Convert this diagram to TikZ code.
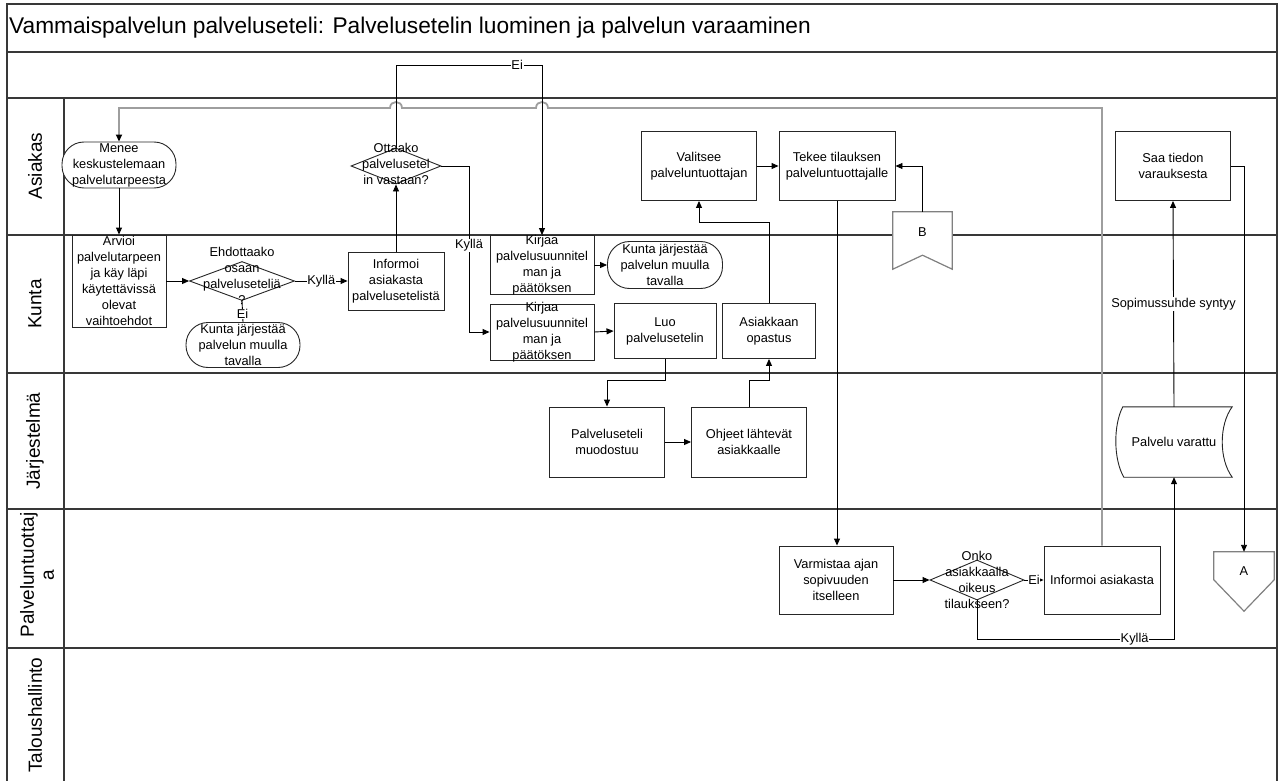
\documentclass[tikz,border=0pt]{standalone}
\usepackage{fontspec}
\setmainfont{Liberation Sans}
\usetikzlibrary{arrows.meta,shapes.geometric,calc}

\begin{document}
\begin{tikzpicture}[x=1pt,y=-1pt,
  lanes/.style={draw=black!78,line width=1.5pt},
  lanelbl/.style={font=\fontsize{19}{20}\selectfont,align=center,inner sep=0pt,rotate=90},
  txt/.style={font=\fontsize{12.8}{16}\selectfont,align=center,inner sep=0pt},
  lbl/.style={font=\fontsize{12.8}{16}\selectfont,fill=white,inner sep=0.8pt},
  proc/.style={draw=black!85,line width=0.9pt,fill=white,inner sep=0pt},
  term/.style={proc,rounded corners=22pt},
  dia/.style={proc,diamond},
  ghost/.style={inner sep=0pt},
  offp/.style={draw=black!50,line width=1.2pt,fill=white},
  arr/.style={draw=black,line width=0.9pt,-{Triangle[length=7pt,width=6pt]}},
  plain/.style={draw=black,line width=0.9pt},
  gline/.style={draw=black!38,line width=1.8pt,-{Triangle[length=7pt,width=6pt,color=black]}}
]
\useasboundingbox (0,0) rectangle (1285,781);

% frame, title row and swimlanes
\draw[lanes] (7,790) -- (7,4) -- (1277,4) -- (1277,790);
\draw[lanes] (7,52) -- (1277,52);
\draw[lanes] (7,98) -- (1277,98);
\foreach \yy in {235,373,509,648} \draw[lanes] (7,\yy) -- (1277,\yy);
\draw[lanes] (64,98) -- (64,790);

\node[anchor=west,font=\fontsize{22.7}{27}\selectfont,inner sep=0pt] (title) at (9,28)
  {Vammaispalvelun palveluseteli: Palvelusetelin luominen ja palvelun varaaminen};

\node[lanelbl] (l-asi) at (35,166) {Asiakas};
\node[lanelbl] (l-kun) at (35,304) {Kunta};
\node[lanelbl] (l-jar) at (35,441) {Järjestelmä};
\node[lanelbl] (l-pal) at (37,575) {Palveluntuottaj\\a};
\node[lanelbl] (l-tal) at (35,715) {Taloushallinto};

% process steps
\node[term,minimum width=114,minimum height=46,label={[txt]center:{Menee\\keskustelemaan\\palvelutarpeesta}}] (menee) at (119,165) {};
\node[proc,minimum width=94,minimum height=92,label={[txt]center:{Arvioi\\palvelutarpeen\\ja käy läpi\\käytettävissä\\olevat\\vaihtoehdot}}] (arvioi) at (119,281) {};
\node[dia,minimum width=105,minimum height=39,label={[txt,yshift=5pt]center:{Ehdottaako\\osaan\\palveluseteliä\\?}}] (ehd) at (242,281) {};
\node[term,minimum width=114,minimum height=45,label={[txt]center:{Kunta järjestää\\palvelun muulla\\tavalla}}] (kj1) at (243,345) {};
\node[proc,minimum width=96,minimum height=58,label={[txt]center:{Informoi\\asiakasta\\palvelusetelistä}}] (inf1) at (396,281) {};
\node[dia,minimum width=90,minimum height=36,label={[txt,yshift=2pt]center:{Ottaako\\palvelusetel\\in vastaan?}}] (ott) at (396,166) {};
\node[proc,minimum width=104,minimum height=59,label={[txt]center:{Kirjaa\\palvelusuunnitel\\man ja\\päätöksen}}] (kir1) at (542,265) {};
\node[term,minimum width=115,minimum height=47,label={[txt]center:{Kunta järjestää\\palvelun muulla\\tavalla}}] (kj2) at (665,265) {};
\node[proc,minimum width=104,minimum height=56,label={[txt]center:{Kirjaa\\palvelusuunnitel\\man ja\\päätöksen}}] (kir2) at (542,332) {};
\node[proc,minimum width=102,minimum height=55,label={[txt]center:{Luo\\palvelusetelin}}] (luo) at (665,331) {};
\node[proc,minimum width=93,minimum height=55,label={[txt]center:{Asiakkaan\\opastus}}] (opa) at (769,331) {};
\node[proc,minimum width=115,minimum height=69,label={[txt]center:{Valitsee\\palveluntuottajan}}] (val) at (699,166) {};
\node[proc,minimum width=116,minimum height=69,label={[txt]center:{Tekee tilauksen\\palveluntuottajalle}}] (tek) at (837,166) {};
\node[proc,minimum width=115,minimum height=69,label={[txt]center:{Saa tiedon\\varauksesta}}] (saa) at (1173,166) {};
\node[proc,minimum width=115,minimum height=70,label={[txt]center:{Palveluseteli\\muodostuu}}] (pal) at (607,442) {};
\node[proc,minimum width=115,minimum height=70,label={[txt]center:{Ohjeet lähtevät\\asiakkaalle}}] (ohj) at (749,442) {};
\node[proc,minimum width=114,minimum height=68,label={[txt]center:{Varmistaa ajan\\sopivuuden\\itselleen}}] (var) at (836,580) {};
\node[dia,minimum width=94,minimum height=40,label={[txt]center:{Onko\\asiakkaalla\\oikeus\\tilaukseen?}}] (onko) at (977,580) {};
\node[proc,minimum width=116,minimum height=68,label={[txt]center:{Informoi asiakasta}}] (inf2) at (1102,580) {};

% stored data
\node[ghost,minimum width=116,minimum height=70] (pv) at (1174,442) {};
\draw[proc] ($(pv.north west)+(7,0)$) .. controls ($(pv.north west)+(-2.5,18)$) and ($(pv.south west)+(-2.5,-18)$) .. ($(pv.south west)+(8,0)$)
  -- (pv.south east) .. controls ($(pv.south east)+(-13.3,-18)$) and ($(pv.north east)+(-13.3,18)$) .. (pv.north east) -- cycle;
\node[txt] (pv-t) at (pv.center) {Palvelu varattu};

% off-page references
\node[ghost,minimum width=59,minimum height=57] (B) at (922.5,240.5) {};
\draw[offp] (B.north west) -- (B.north east) -- (B.south east) -- ($(B.south)+(0,-14)$) -- (B.south west) -- cycle;
\node[txt] (B-t) at ($(B.center)+(0,-8)$) {B};
\node[ghost,minimum width=60,minimum height=59] (A) at (1244,581.5) {};
\draw[offp] (A.north west) -- (A.north east) -- ($(A.north east)+(0,28)$) -- (A.south) -- ($(A.north west)+(0,28)$) -- cycle;
\node[txt] (A-t) at ($(A.center)+(0,-10)$) {A};

% return path to the client
\draw[gline] (inf2.north) -- (inf2.north |- 0,108) -- ($(kir1.north |- 0,108)+(6,0)$)
  .. controls ($(kir1.north |- 0,108)+(6,-8)$) and ($(kir1.north |- 0,108)+(-6,-8)$) .. ($(kir1.north |- 0,108)+(-6,0)$)
  -- ($(ott.north |- 0,108)+(6,0)$)
  .. controls ($(ott.north |- 0,108)+(6,-8)$) and ($(ott.north |- 0,108)+(-6,-8)$) .. ($(ott.north |- 0,108)+(-6,0)$)
  -- (menee.north |- 0,108) -- (menee.north);

% connectors
\draw[arr] (menee.south) -- (arvioi.north);
\draw[arr] (arvioi.east) -- (ehd.west);
\draw[arr] (ehd.east) -- node[lbl] (k1) {Kyllä} (inf1.west);
\draw[plain] (ehd.south) -- node[lbl,pos=0.62,inner sep=0.3pt] (e1) {Ei} (kj1.north);
\draw[arr] (inf1.north) -- (ott.south);
\draw[arr] (ott.north) -- (ott.north |- 0,65) -- node[lbl,pos=0.83] (e2) {Ei} (kir1.north |- 0,65) -- (kir1.north);
\draw[arr] (ott.east) -- (469,166) -- node[lbl,pos=0.48] (k2) {Kyllä} (469,332) -- (kir2.west);
\draw[arr] (kir1.east) -- (kj2.west);
\draw[arr] (kir2.east) -- (luo.west);
\draw[arr] (luo.south) -- (luo.south |- 0,380) -| (pal.north);
\draw[arr] (pal.east) -- (ohj.west);
\draw[arr] (ohj.north) -- (ohj.north |- 0,380) -| (opa.south);
\draw[arr] (opa.north) -- (opa.north |- 0,222) -| (val.south);
\draw[arr] (val.east) -- (tek.west);
\draw[arr] (B.north) |- (tek.east);
\draw[arr] (tek.south) -- (tek.south |- var.north);
\draw[arr] (var.east) -- (onko.west);
\draw[arr] (onko.east) -- node[lbl,inner sep=0.3pt] (e3) {Ei} (inf2.west);
\draw[arr] (onko.south) -- (onko.south |- 0,639) -- node[lbl,pos=0.8] (k3) {Kyllä} (pv.south |- 0,639) -- (pv.south);
\draw[arr] (pv.north) -- node[lbl] (sop) {Sopimussuhde syntyy} (saa.south);
\draw[arr] (saa.east) -- (A.north |- saa.east) -- (A.north);
\end{tikzpicture}
\end{document}
